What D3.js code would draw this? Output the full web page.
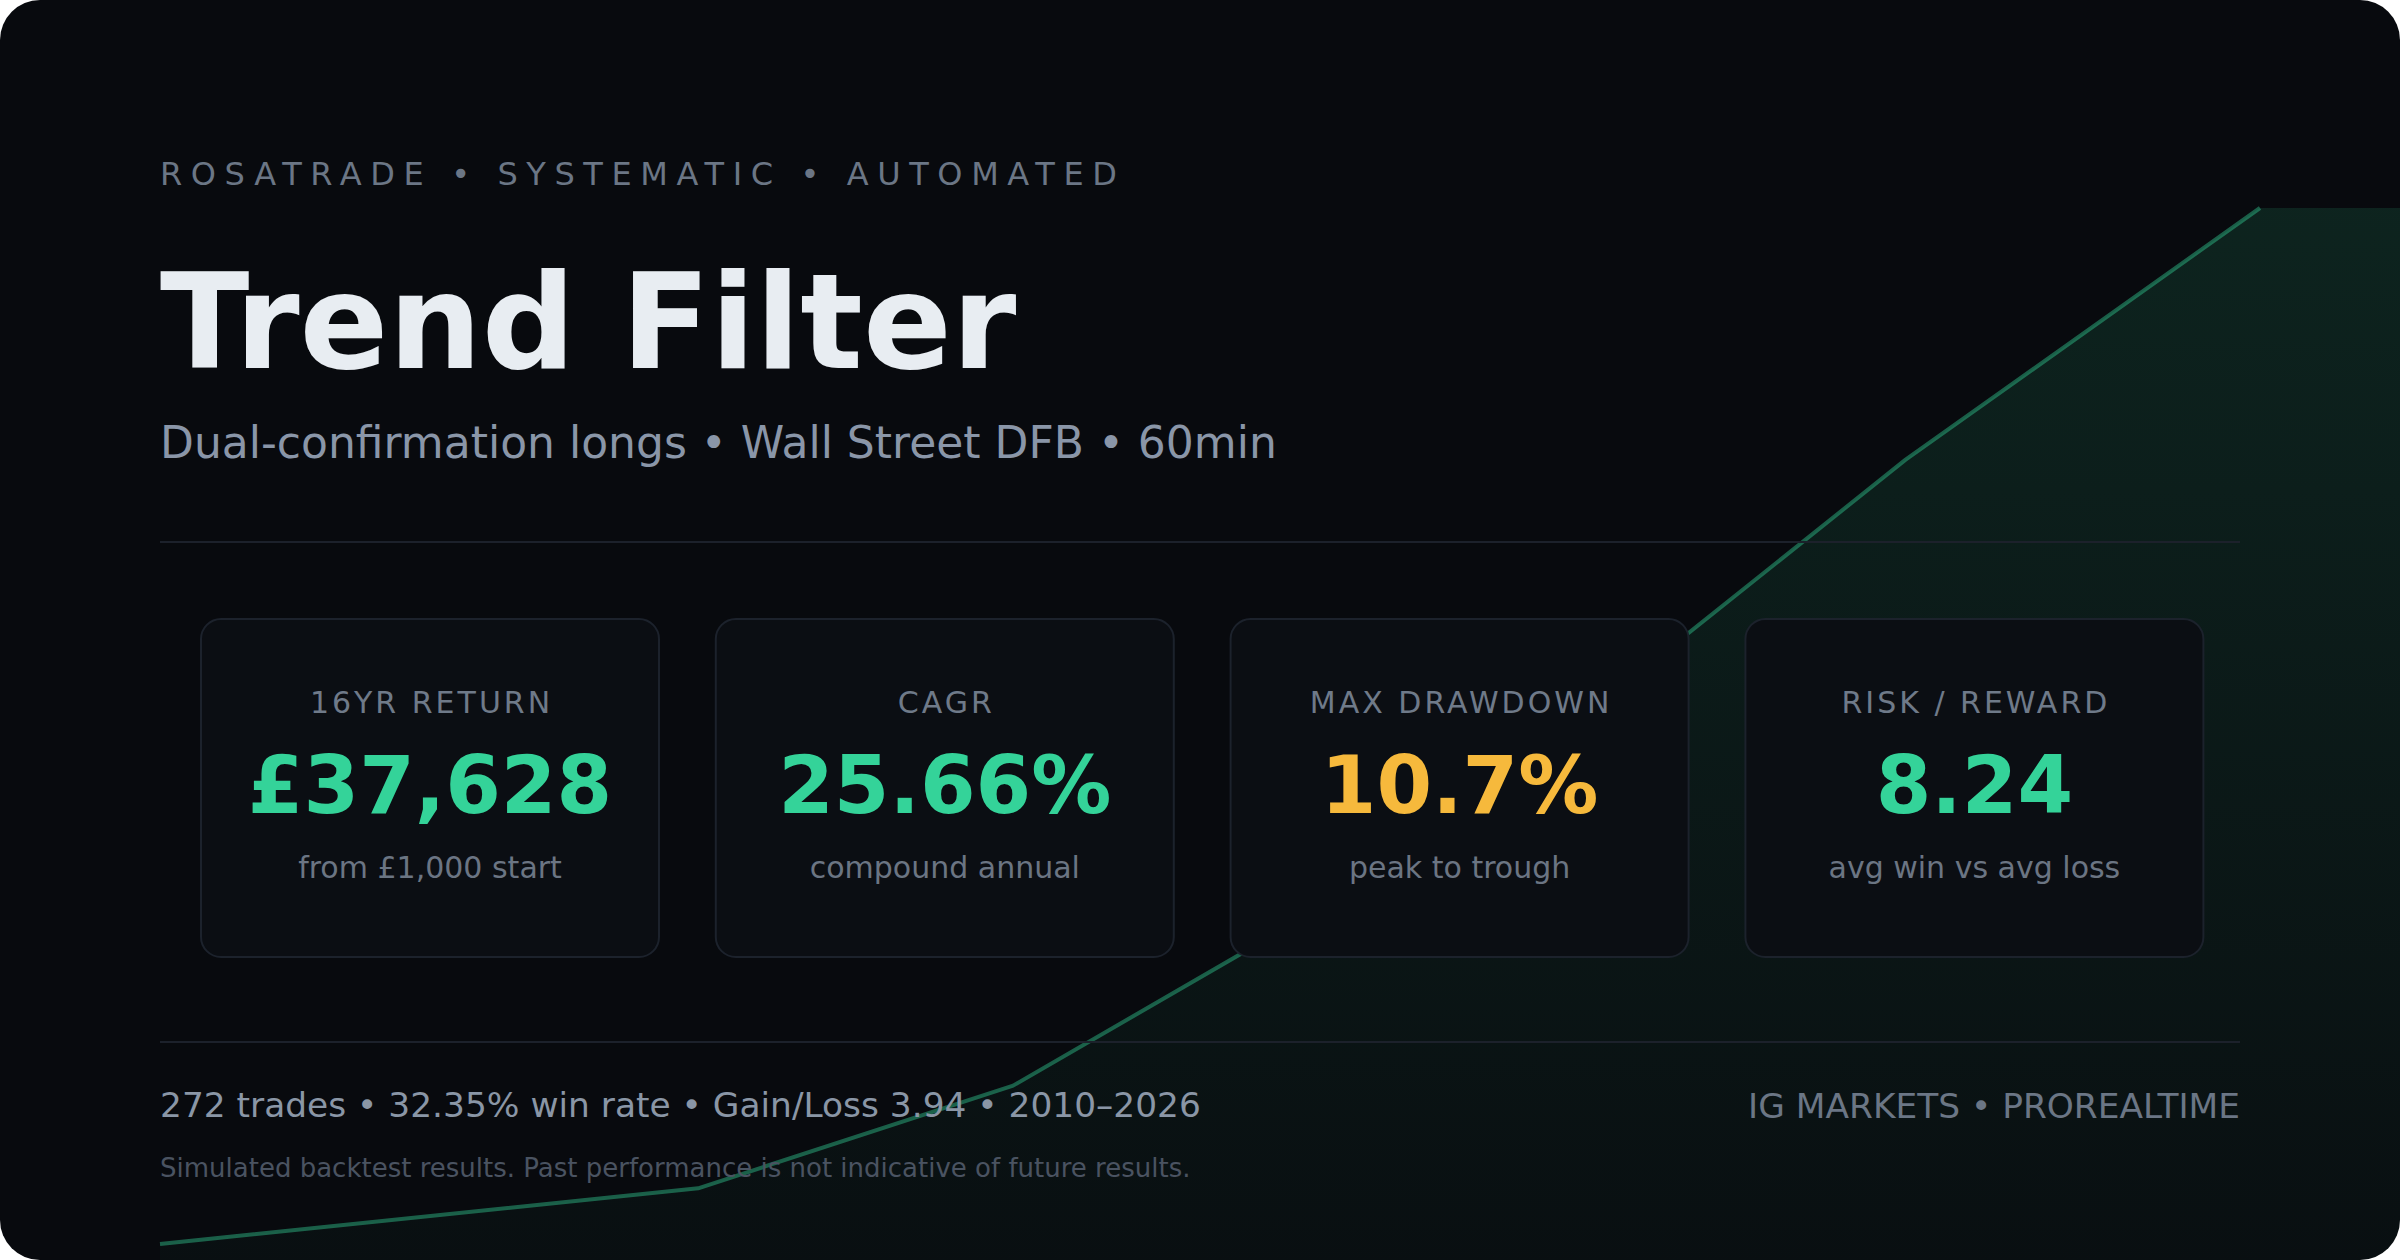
<!DOCTYPE html>
<html>
<head>
<meta charset="utf-8">
<script src="https://cdn.jsdelivr.net/npm/d3@7"></script>
<style>
  html, body { margin: 0; padding: 0; background: #ffffff; }
  svg { display: block; }
  text { font-family: "DejaVu Sans", sans-serif; }
</style>
</head>
<body>
<svg id="chart"></svg>
<script>
// Equity curve points (year, account value in £)
const years = [2010, 2014.1, 2016.5, 2019.5, 2023.3, 2026];
const equity = [1000, 2970, 6600, 14650, 28730, 37628];

// Stat cards
const statLabels = ["16YR RETURN", "CAGR", "MAX DRAWDOWN", "RISK / REWARD"];
const statValues = ["£37,628", "25.66%", "10.7%", "8.24"];
const statNotes = ["from £1,000 start", "compound annual", "peak to trough", "avg win vs avg loss"];
const statTone = ["gain", "gain", "risk", "gain"];

// Header / footer text
const kicker = "ROSATRADE • SYSTEMATIC • AUTOMATED";
const title = "Trend Filter";
const subtitle = "Dual-confirmation longs • Wall Street DFB • 60min";
const footerLeft = "272 trades • 32.35% win rate • Gain/Loss 3.94 • 2010–2026";
const footerRight = "IG MARKETS • PROREALTIME";
const disclaimer = "Simulated backtest results. Past performance is not indicative of future results.";

const W = 1200, H = 630;
const toneColor = { gain: "#34d399", risk: "#f6b93c" };

const svg = d3.select("#chart")
    .attr("width", 2400)
    .attr("height", 1260)
    .attr("viewBox", `0 0 ${W} ${H}`);

const defs = svg.append("defs");

defs.append("clipPath").attr("id", "card-clip")
    .append("rect")
    .attr("width", W).attr("height", H)
    .attr("rx", 20).attr("ry", 20);

const grad = defs.append("linearGradient")
    .attr("id", "area-grad")
    .attr("gradientUnits", "userSpaceOnUse")
    .attr("x1", 0).attr("y1", 104).attr("x2", 0).attr("y2", H);
grad.append("stop").attr("offset", "0%").attr("stop-color", "#2ab47c").attr("stop-opacity", 0.15);
grad.append("stop").attr("offset", "100%").attr("stop-color", "#2ab47c").attr("stop-opacity", 0.03);

// background
svg.append("rect")
    .attr("width", W).attr("height", H)
    .attr("rx", 20).attr("ry", 20)
    .attr("fill", "#080a0e");

// scales for the equity curve
const x = d3.scaleLinear()
    .domain([d3.min(years), d3.max(years)])
    .range([80, 1130]);

const y = d3.scaleLinear()
    .domain([d3.min(equity), d3.max(equity)])
    .range([622, 104]);

const points = years.map((yr, i) => ({ yr: yr, v: equity[i] }));
// fill keeps the last value out to the right edge
const areaPoints = points.concat([{ yr: x.invert(W), v: equity[equity.length - 1] }]);

const chart = svg.append("g").attr("clip-path", "url(#card-clip)");

chart.append("path")
    .datum(areaPoints)
    .attr("fill", "url(#area-grad)")
    .attr("d", d3.area()
        .x(d => x(d.yr))
        .y0(H)
        .y1(d => y(d.v)));

chart.append("path")
    .datum(points)
    .attr("fill", "none")
    .attr("stroke", "#34d399")
    .attr("stroke-opacity", 0.42)
    .attr("stroke-width", 2)
    .attr("stroke-linejoin", "round")
    .attr("d", d3.line()
        .x(d => x(d.yr))
        .y(d => y(d.v)));

// header
svg.append("text")
    .attr("x", 80).attr("y", 92.5)
    .attr("font-size", 16)
    .attr("letter-spacing", 4.3)
    .attr("fill", "#6b7685")
    .text(kicker);

svg.append("text")
    .attr("x", 80).attr("y", 184)
    .attr("font-size", 65.5)
    .attr("font-weight", "bold")
    .attr("fill", "#e8edf2")
    .text(title);

svg.append("text")
    .attr("x", 80).attr("y", 229)
    .attr("font-size", 22)
    .attr("fill", "#8a96a8")
    .text(subtitle);

// dividers
[271, 521].forEach(yy => {
    svg.append("line")
        .attr("x1", 80).attr("x2", 1120)
        .attr("y1", yy).attr("y2", yy)
        .attr("stroke", "#1c212b")
        .attr("stroke-width", 1);
});

// stat cards
const cardW = 230, cardH = 170, cardTop = 309, cardStep = 257.4;

const cards = svg.selectAll(".stat")
    .data(statLabels)
    .enter().append("g")
    .attr("class", "stat")
    .attr("transform", (d, i) => `translate(${100 + i * cardStep},${cardTop})`);

cards.append("rect")
    .attr("x", 0.5).attr("y", 0.5)
    .attr("width", cardW - 1).attr("height", cardH - 1)
    .attr("rx", 10).attr("ry", 10)
    .attr("fill", "#0b0e13")
    .attr("stroke", "#1c222c")
    .attr("stroke-width", 1);

cards.append("text")
    .attr("x", cardW / 2 + 0.75).attr("y", 47.3)
    .attr("text-anchor", "middle")
    .attr("font-size", 15)
    .attr("letter-spacing", 1.5)
    .attr("fill", "#6f7a89")
    .text(d => d);

cards.append("text")
    .attr("x", cardW / 2).attr("y", 97.5)
    .attr("text-anchor", "middle")
    .attr("font-size", 40)
    .attr("font-weight", "bold")
    .attr("fill", (d, i) => toneColor[statTone[i]])
    .text((d, i) => statValues[i]);

cards.append("text")
    .attr("x", cardW / 2).attr("y", 129.8)
    .attr("text-anchor", "middle")
    .attr("font-size", 15)
    .attr("fill", "#6b7583")
    .text((d, i) => statNotes[i]);

// footer
svg.append("text")
    .attr("x", 80).attr("y", 558.7)
    .attr("font-size", 17.2)
    .attr("fill", "#8a96a6")
    .text(footerLeft);

svg.append("text")
    .attr("x", 1120).attr("y", 559)
    .attr("text-anchor", "end")
    .attr("font-size", 17.2)
    .attr("fill", "#6b7685")
    .text(footerRight);

svg.append("text")
    .attr("x", 80).attr("y", 588.3)
    .attr("font-size", 13)
    .attr("fill", "#4a5361")
    .text(disclaimer);
</script>
</body>
</html>
